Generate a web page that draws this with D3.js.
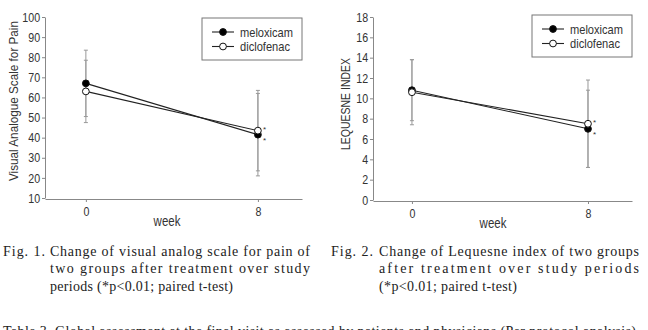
<!DOCTYPE html>
<html>
<head>
<meta charset="UTF-8">
<script src="https://d3js.org/d3.v7.min.js"></script>
<style>
  body { margin: 0; background: #fff; }
  svg { display: block; }
  .tick text { font-family: "Liberation Sans", Arial, sans-serif; fill: #333; }
  .lab { font-family: "Liberation Sans", Arial, sans-serif; fill: #333; }
  .cap { font-family: "Liberation Serif", "DejaVu Serif", serif; font-size: 14px; fill: #222; }
</style>
</head>
<body>
<svg id="chart" width="648" height="330"></svg>
<script>
// weeks on the x axis
const weeks = [0, 8];
const seriesNames = ["meloxicam", "diclofenac"];

// Fig 1: visual analogue scale (mean, sd)
const vasMeloxicam = [67, 41.5];
const vasMeloxicamSD = [16.5, 20.5];
const vasDiclofenac = [63, 43.5];
const vasDiclofenacSD = [15.5, 20];
const vasTicks = [10, 20, 30, 40, 50, 60, 70, 80, 90, 100];

// Fig 2: Lequesne index (mean, sd)
const lqMeloxicam = [10.8, 7.0];
const lqMeloxicamSD = [3.0, 3.8];
const lqDiclofenac = [10.6, 7.5];
const lqDiclofenacSD = [3.2, 4.3];
const lqTicks = [0, 2, 4, 6, 8, 10, 12, 14, 16, 18];

const svg = d3.select("#chart");
const narrow = "scale(0.82,1)"; // the figure uses a condensed sans face

function panel(opt) {
  const g = svg.append("g");
  const x = d3.scaleLinear().domain(opt.xDomain).range(opt.xRange);
  const y = d3.scaleLinear().domain(opt.yDomain).range(opt.yRange);

  // axes
  const ya = g.append("g").attr("transform", `translate(${opt.xRange[0]},0)`)
    .call(d3.axisLeft(y).tickValues(opt.yTicks).tickSize(3).tickSizeOuter(0).tickPadding(3));
  const xa = g.append("g").attr("transform", `translate(0,${opt.yRange[0] + 1})`)
    .call(d3.axisBottom(x).tickValues(weeks).tickSize(3).tickSizeOuter(0).tickPadding(5));
  [ya, xa].forEach(a => {
    a.select(".domain").attr("stroke", "#888");
    a.selectAll(".tick line").attr("stroke", "#888");
    a.selectAll(".tick text").attr("font-size", 13).attr("transform", narrow);
  });

  // axis titles
  g.append("text").attr("class", "lab")
    .attr("transform", `translate(${opt.yLabelX},${opt.yLabelY}) rotate(-90)`)
    .attr("text-anchor", "middle").attr("font-size", 13)
    .attr("textLength", opt.yLabelLen).attr("lengthAdjust", "spacingAndGlyphs")
    .text(opt.yLabel);
  g.append("text").attr("class", "lab")
    .attr("transform", `translate(${opt.weekX},${opt.yRange[0] + 28}) ${narrow}`)
    .attr("text-anchor", "middle").attr("font-size", 14)
    .text("week");

  const series = [
    { name: seriesNames[0], mean: opt.m, sd: opt.mSD, fill: "#000" },
    { name: seriesNames[1], mean: opt.d, sd: opt.dSD, fill: "#fff" }
  ];

  // error bars
  series.forEach(s => {
    const eg = g.append("g").attr("stroke", "#999").attr("stroke-width", 1);
    weeks.forEach((w, i) => {
      const lo = s.mean[i] - s.sd[i], hi = s.mean[i] + s.sd[i];
      eg.append("line").attr("x1", x(w)).attr("x2", x(w)).attr("y1", y(lo)).attr("y2", y(hi));
      [lo, hi].forEach(v => eg.append("line")
        .attr("x1", x(w) - 2).attr("x2", x(w) + 2).attr("y1", y(v)).attr("y2", y(v)));
    });
  });

  // lines
  const line = d3.line().x((d, i) => x(weeks[i])).y(d => y(d));
  series.forEach(s => {
    g.append("path").datum(s.mean).attr("d", line)
      .attr("fill", "none").attr("stroke", "#222").attr("stroke-width", 1.1);
  });
  // markers
  series.forEach(s => {
    g.selectAll(null).data(s.mean).join("circle")
      .attr("cx", (d, i) => x(weeks[i])).attr("cy", d => y(d)).attr("r", 3.4)
      .attr("fill", s.fill).attr("stroke", "#111").attr("stroke-width", 1);
  });
  // significance stars at week 8
  const upper = series[0].mean[1] > series[1].mean[1] ? series[0] : series[1];
  const lower = upper === series[0] ? series[1] : series[0];
  g.append("text").attr("class", "lab").attr("font-size", 8)
    .attr("x", x(weeks[1]) + 5).attr("y", y(upper.mean[1]) + 1).text("*");
  g.append("text").attr("class", "lab").attr("font-size", 8)
    .attr("x", x(weeks[1]) + 5).attr("y", y(lower.mean[1]) + 8).text("*");

  // legend
  const lg = g.append("g").attr("transform", `translate(${opt.legX},${opt.legY})`);
  lg.append("rect").attr("width", 100).attr("height", 42)
    .attr("fill", "#fff").attr("stroke", "#777").attr("stroke-width", 1);
  series.forEach((s, i) => {
    const yy = 14 + i * 14.5;
    lg.append("line").attr("x1", 10).attr("x2", 32).attr("y1", yy).attr("y2", yy)
      .attr("stroke", "#222").attr("stroke-width", 1.1);
    lg.append("circle").attr("cx", 21).attr("cy", yy).attr("r", 3.4)
      .attr("fill", s.fill).attr("stroke", "#111");
    lg.append("text").attr("class", "lab").attr("x", 38).attr("y", yy + 4.5)
      .attr("font-size", 13).attr("textLength", i === 0 ? 53 : 50)
      .attr("lengthAdjust", "spacingAndGlyphs").text(s.name);
  });
}

panel({
  xDomain: [-1.9, 10.05], xRange: [45, 302],
  yDomain: [10, 100], yRange: [198, 17], yTicks: vasTicks,
  m: vasMeloxicam, mSD: vasMeloxicamSD, d: vasDiclofenac, dSD: vasDiclofenacSD,
  yLabel: "Visual Analogue Scale for Pain", yLabelX: 18, yLabelY: 101, yLabelLen: 160,
  weekX: 167, legX: 202, legY: 18
});

panel({
  xDomain: [-1.77, 10.0], xRange: [373, 632],
  yDomain: [0, 18], yRange: [200, 17], yTicks: lqTicks,
  m: lqMeloxicam, mSD: lqMeloxicamSD, d: lqDiclofenac, dSD: lqDiclofenacSD,
  yLabel: "LEQUESNE INDEX", yLabelX: 350, yLabelY: 104, yLabelLen: 92,
  weekX: 493, legX: 532, legY: 15
});

// captions
const captions = [
  { label: "Fig. 1.", lx: 3, tx: 50, w: [260, 260, 183],
    lines: ["Change of visual analog scale for pain of", "two groups after treatment over study", "periods (*p<0.01; paired t-test)"] },
  { label: "Fig. 2.", lx: 331, tx: 379, w: [260, 260, 138],
    lines: ["Change of Lequesne index of two groups", "after treatment over study periods", "(*p<0.01; paired t-test)"] }
];
const capY = [256, 273, 291];
captions.forEach(c => {
  svg.append("text").attr("class", "cap").attr("x", c.lx).attr("y", capY[0])
    .attr("textLength", 42).attr("lengthAdjust", "spacing").text(c.label);
  c.lines.forEach((t, i) => {
    svg.append("text").attr("class", "cap").attr("x", c.tx).attr("y", capY[i])
      .attr("textLength", c.w[i]).attr("lengthAdjust", "spacing").text(t);
  });
});
svg.append("text").attr("class", "cap").attr("x", 3).attr("y", 336)
  .attr("textLength", 633).attr("lengthAdjust", "spacing")
  .text("Table 3. Global assessment at the final visit as assessed by patients and physicians (Per protocol analysis)");
</script>
</body>
</html>
